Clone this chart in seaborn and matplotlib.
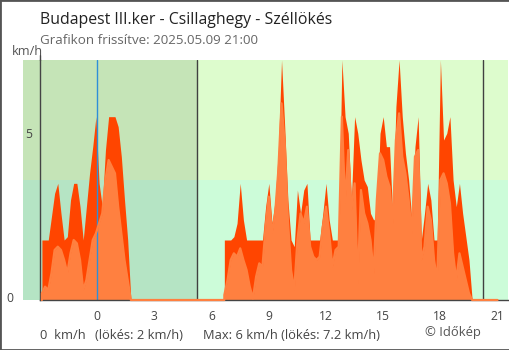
import numpy as np
import pandas as pd
import matplotlib
matplotlib.use("Agg")
import matplotlib.pyplot as plt
import seaborn as sns
from matplotlib.patches import Rectangle

sns.set_style("white")
plt.rcParams['font.family'] = ['Open Sans', 'DejaVu Sans']

# ---------------- texts ----------------
title = "Budapest III.ker - Csillaghegy - Széllökés"
subtitle = "Grafikon frissítve: 2025.05.09 21:00"
unit = "km/h"
footer_parts = ["0  km/h", "(lökés: 2 km/h)", "Max: 6 km/h (lökés: 7.2 km/h)"]
credit = "© Időkép"

# ---------------- axes ----------------
x_ticks = [-3, 0, 3, 6, 9, 12, 15, 18, 21]
x_tick_labels = ["", "0", "3", "6", "9", "12", "15", "18", "21"]
y_tick_labels = ["0", "5"]

# ---------------- data (km/h, 10-minute samples) ----------------
step_h = 1 / 6
start_night = -2.9
gust_night = [1.8, 1.8, 1.8, 2.5, 3.2, 3.5, 2.6, 1.8, 1.9, 3.0, 3.5, 3.5, 2.8, 1.8, 2.8,
              3.8, 4.6, 5.5, 3.5, 2.8, 4.5, 5.5, 5.5, 5.5, 5.2, 4.3, 3.0, 1.8, 0]
mean_night = [0.2, 0.4, 0.3, 0.8, 1.5, 1.6, 1.5, 1.2, 0.8, 1.4, 1.8, 1.7, 1.2, 0.3, 0.6,
              1.2, 1.8, 2.0, 2.3, 2.6, 3.6, 4.2, 4.0, 3.8, 2.8, 2.0, 1.2, 0.6, 0]

start_day = 6.67
gust_day = [1.8, 1.8, 1.8, 1.9, 2.3, 3.5, 2.4, 1.8, 1.8, 1.8, 1.8, 1.8, 1.8,
            2.8, 3.5, 2.3, 3.0, 4.5, 7.2, 5.2, 3.0, 1.8,
            1.6, 3.3, 2.6, 3.3, 3.5, 1.8,
            1.8, 1.8, 1.8, 2.6, 3.5, 2.4, 1.8, 1.8, 1.8, 7.2, 5.5, 5.0, 3.0, 5.5, 5.0, 4.2,
            3.6, 3.4, 2.6, 2.4, 2.5, 5.0, 5.5, 4.6, 4.6, 2.5, 5.8, 7.2, 5.5, 4.4, 3.6, 2.4, 4.6, 5.5,
            1.8, 2.6, 3.5, 3.0, 1.8, 1.8, 7.2, 4.8, 5.0, 5.5, 3.6, 2.8, 3.5, 2.6, 1.9, 1.2,
            0]
mean_day = [0.15, 0.6, 1.2, 1.4, 1.3, 1.55, 1.2, 0.9, 0.4, 0.05, 0.7, 1.1, 1.0,
            2.2, 3.1, 2.0, 2.6, 3.9, 5.9, 4.7, 2.4, 0.9,
            0.3, 1.8, 2.6, 2.3, 2.8, 1.6,
            1.3, 1.2, 1.3, 2.2, 2.8, 2.0, 1.0, 1.5, 1.6, 5.5, 2.9, 4.5, 2.7, 3.5, 0.5, 3.3,
            2.6, 2.3, 1.8, 0.8, 3.0, 4.4, 4.2, 3.7, 3.4, 2.3, 4.8, 5.6, 4.3, 3.8, 3.0, 2.0, 4.3, 4.5,
            1.2, 1.6, 2.8, 2.4, 1.2, 0.6, 3.6, 3.8, 3.5, 2.9, 1.4, 0.6, 1.4, 1.0, 0.6, 0.2,
            0]
end_time = 21.0

sunrise = 5.24
sunset = 20.24
band_level = 3.6
y_max = 7.2
x_left_view = -3.88
x_right_view = 21.55

# ---------------- colours ----------------
c_gust = "#ff4500"
c_mean = "#ff8040"
c_night_hi, c_night_lo = "#c5e4b7", "#b5e4c4"
c_day_hi, c_day_lo = "#ddfccd", "#ccfcd9"
c_axis = "#444444"

# ---------------- dataframe ----------------
t_night = start_night + step_h * np.arange(len(gust_night))
t_day = start_day + step_h * np.arange(len(gust_day))
# a zero sample at the start of each recorded stretch gives it a vertical edge
df = pd.DataFrame({
    "t": np.concatenate([[start_night], t_night, [start_day], t_day, [end_time]]),
    "gust": np.concatenate([[0], gust_night, [0], gust_day, [0]]),
    "mean": np.concatenate([[0], mean_night, [0], mean_day, [0]]),
})

W, H = 510, 350
fig = plt.figure(figsize=(W / 100, H / 100), dpi=100)
fig.patch.set_facecolor("white")

ax_left, ax_right, ax_top, ax_bot = 40, 508, 60, 300
ax = fig.add_axes([ax_left / W, 1 - ax_bot / H, (ax_right - ax_left) / W, (ax_bot - ax_top) / H])
ax.set_facecolor("none")
ax.set_xlim(-3, x_right_view)
ax.set_ylim(0, y_max)

# background bands (night / day)
for x0, x1, lo, hi in [(x_left_view, sunrise, c_night_lo, c_night_hi),
                        (sunrise, x_right_view, c_day_lo, c_day_hi)]:
    ax.add_patch(Rectangle((x0, 0), x1 - x0, band_level, facecolor=lo, lw=0, zorder=0, clip_on=False))
    ax.add_patch(Rectangle((x0, band_level), x1 - x0, y_max - band_level, facecolor=hi, lw=0,
                           zorder=0, clip_on=False))

# data
ax.fill_between(df["t"], 0, df["gust"], color=c_gust, lw=0, zorder=1)
ax.fill_between(df["t"], 0, df["mean"], color=c_mean, lw=0, zorder=1.2)
sns.lineplot(data=df, x="t", y="mean", color=c_mean, lw=1.6,
             estimator=None, sort=False, ax=ax, zorder=3)
ax.lines[-1].set_clip_on(False)

# vertical markers
ax.axvline(0, color="#2f8fd8", lw=1.0, zorder=2)
ax.axvline(sunrise, color="#404040", lw=1.0, zorder=2)
ax.axvline(sunset, color="#404040", lw=1.0, zorder=2)
ax.plot([-3, -3], [y_max, y_max + 0.15], color=c_axis, lw=1.0, clip_on=False)

# spines & ticks
for s in ["top", "right"]:
    ax.spines[s].set_visible(False)
for s in ["left", "bottom"]:
    ax.spines[s].set_color(c_axis)
    ax.spines[s].set_linewidth(1.0)
ax.set_xticks(x_ticks)
ax.set_xticklabels(x_tick_labels)
ax.set_yticks([5])
ax.set_yticklabels([y_tick_labels[1]])
ax.tick_params(axis="x", direction="inout", length=8, width=1, color=c_axis,
               labelsize=8.7, labelcolor="#444444", pad=3)
ax.tick_params(axis="y", direction="inout", length=9.5, width=1, color=c_axis,
               labelsize=8.7, labelcolor="#444444", pad=1)
ax.xaxis.get_major_ticks()[1].tick1line.set_color("#2f8fd8")
ax.set_xlabel("")
ax.set_ylabel("")

# texts
fig.text(9.5 / W, 1 - 299 / H, y_tick_labels[0], ha="center", va="center", fontsize=8.7, color="#444444")
fig.text(12 / W, 1 - 55 / H, unit, ha="left", va="baseline", fontsize=9.2, color="#555555")
fig.text(40 / W, 1 - 24 / H, title, ha="left", va="baseline", fontsize=11.45, color="#222222")
fig.text(40 / W, 1 - 44.3 / H, subtitle, ha="left", va="baseline", fontsize=9.6, color="#666666")
for xpos, part in zip([40, 95, 203], footer_parts):
    fig.text(xpos / W, 1 - 339 / H, part, ha="left", va="baseline", fontsize=9.3, color="#444444")
fig.text(425 / W, 1 - 336 / H, credit, ha="left", va="baseline", fontsize=9.4, color="#555555")

fig.patches.append(Rectangle((0, 0), 1, 1, transform=fig.transFigure, fill=False,
                             edgecolor="#555555", lw=2))

fig.savefig("out.png", dpi=100, facecolor="white")
